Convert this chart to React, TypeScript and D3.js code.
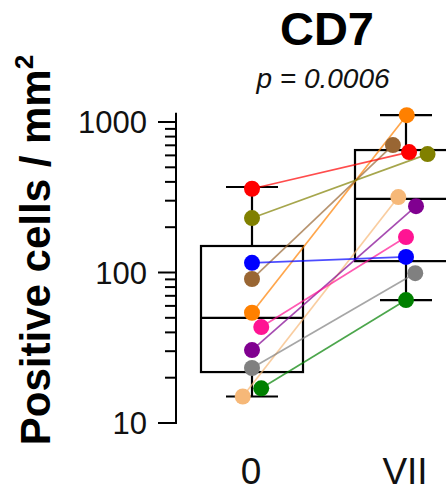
import React from "react";
import * as d3 from "d3";

const categories = ["0", "VII"];
const seriesNames = ["tan", "green", "gray", "purple", "pink", "orange", "brown", "blue", "olive", "red"];
const seriesColors = ["#f6b878", "#008000", "#808080", "#800090", "#ff1493", "#ff8000", "#996633", "#0000ff", "#808000", "#ff0000"];
const valuesT0 = [15, 17, 23.2, 30.5, 43.4, 54, 90.5, 116, 230, 360];
const valuesT7 = [317, 65.6, 99, 276, 172, 1110, 703, 127, 612, 631];
const jitterT0 = [-0.06, 0.06, 0, 0, 0.06, 0, 0, 0, 0, 0];
const jitterT7 = [-0.05, 0, 0.06, 0.065, 0, 0.005, -0.085, 0, 0.14, 0.02];

const whiskerLow = [15, 65.6];
const q1 = [21.8, 119];
const median = [50, 308];
const q3 = [150, 651];
const whiskerHigh = [370, 1110];

const majorTicks = [10, 100, 1000];
const minorTicks = [20, 30, 40, 50, 60, 70, 80, 90, 200, 300, 400, 500, 600, 700, 800, 900];

export default function App() {
  const W = 446, H = 492;
  const x = d3.scaleLinear().domain([0, 1]).range([252, 406]);
  const y = d3.scaleLog().domain([10, 1000]).range([423, 122]);
  const axisX = 176;
  const boxHalf = 51;
  const capHalf = 26;
  const font = "'Liberation Sans', Arial, sans-serif";
  const series = [valuesT0, valuesT7];
  const jit = [jitterT0, jitterT7];

  return (
    <svg width={W} height={H} style={{ position: "absolute", left: 0, top: 0 }} fontFamily={font}>
      <text x={327} y={45} textAnchor="middle" fontWeight="bold" fontSize={47}>CD7</text>
      <text x={323} y={88} textAnchor="middle" fontStyle="italic" fontSize={28} fill="#111">p = 0.0006</text>

      <text transform={`translate(50,250) rotate(-90)`} textAnchor="middle" fontWeight="bold" fontSize={42}>
        Positive cells / mm<tspan fontSize={26} dy={-17}>2</tspan>
      </text>

      {/* y axis */}
      <line x1={axisX} x2={axisX} y1={y(1150)} y2={y(10)} stroke="#000" strokeWidth={2} />
      {majorTicks.map((t) => (
        <g key={t}>
          <line x1={axisX - 18} x2={axisX + 1} y1={y(t)} y2={y(t)} stroke="#000" strokeWidth={2} />
          <text x={147} y={y(t)} dy="0.36em" textAnchor="end" fontSize={31} fill="#111">{t}</text>
        </g>
      ))}
      {minorTicks.map((t) => (
        <line key={t} x1={axisX - 11} x2={axisX} y1={y(t)} y2={y(t)} stroke="#000" strokeWidth={2} />
      ))}

      {/* x labels */}
      {categories.map((c, i) => (
        <text key={c} x={x(i) - 1} y={484} textAnchor="middle" fontSize={37} fill="#111">{c}</text>
      ))}

      {/* boxes */}
      {categories.map((c, i) => {
        const cx = x(i);
        return (
          <g key={c} stroke="#000" strokeWidth={2.2} fill="none">
            <rect x={cx - boxHalf} y={y(q3[i])} width={boxHalf * 2} height={y(q1[i]) - y(q3[i])} />
            <line x1={cx - boxHalf} x2={cx + boxHalf} y1={y(median[i])} y2={y(median[i])} />
            <line x1={cx} x2={cx} y1={y(whiskerHigh[i])} y2={y(q3[i])} />
            <line x1={cx} x2={cx} y1={y(q1[i])} y2={y(whiskerLow[i])} />
            <line x1={cx - capHalf} x2={cx + capHalf} y1={y(whiskerHigh[i])} y2={y(whiskerHigh[i])} />
            <line x1={cx - capHalf} x2={cx + capHalf} y1={y(whiskerLow[i])} y2={y(whiskerLow[i])} />
          </g>
        );
      })}

      {/* paired lines */}
      {seriesNames.map((n, k) => (
        <line
          key={n}
          x1={x(0 + jitterT0[k])}
          y1={y(valuesT0[k])}
          x2={x(1 + jitterT7[k])}
          y2={y(valuesT7[k])}
          stroke={seriesColors[k]}
          strokeWidth={1.7}
          strokeOpacity={0.7}
        />
      ))}

      {/* dots */}
      {series.map((vals, i) =>
        vals.map((v, k) => (
          <circle key={`${i}-${k}`} cx={x(i + jit[i][k])} cy={y(v)} r={8} fill={seriesColors[k]} />
        ))
      )}
    </svg>
  );
}
